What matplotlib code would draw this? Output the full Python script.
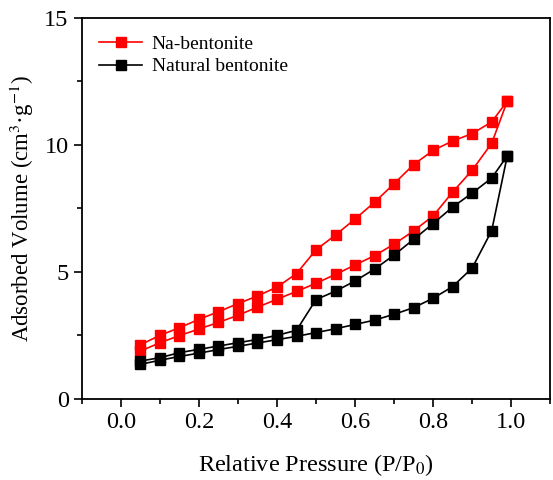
import matplotlib.pyplot as plt
from matplotlib.ticker import MultipleLocator

plt.rcParams['font.family'] = ['Liberation Serif', 'DejaVu Serif']
plt.rcParams['mathtext.fontset'] = 'stix'

# Data: adsorption branch up, then desorption branch back down
p_ads = [0.05, 0.10, 0.15, 0.20, 0.25, 0.30, 0.35, 0.40, 0.45, 0.50,
         0.55, 0.60, 0.65, 0.70, 0.75, 0.80, 0.85, 0.90, 0.95, 0.99]
p_des = p_ads[::-1]

na_ads = [1.88, 2.21, 2.49, 2.75, 3.01, 3.29, 3.61, 3.92, 4.23, 4.55,
          4.90, 5.27, 5.64, 6.09, 6.61, 7.20, 8.14, 9.00, 10.06, 11.72]
na_des = [11.72, 10.90, 10.44, 10.15, 9.78, 9.22, 8.47, 7.74, 7.08, 6.45,
          5.87, 4.93, 4.40, 4.05, 3.75, 3.43, 3.13, 2.80, 2.50, 2.13]

nat_ads = [1.36, 1.52, 1.67, 1.80, 1.94, 2.07, 2.20, 2.33, 2.46, 2.61,
           2.76, 2.93, 3.10, 3.33, 3.59, 3.96, 4.42, 5.15, 6.62, 9.57]
nat_des = [9.57, 8.69, 8.10, 7.55, 6.90, 6.28, 5.66, 5.11, 4.64, 4.24,
           3.91, 2.70, 2.50, 2.34, 2.21, 2.08, 1.95, 1.82, 1.62, 1.49]

fig = plt.figure(figsize=(5.53, 4.80), dpi=100)
ax = fig.add_axes([0.148, 0.169, 0.847, 0.794])

ax.plot(p_ads + p_des, na_ads + na_des, color='red', marker='s',
        markersize=6.5, linewidth=1.2, label='Na-bentonite')
ax.plot(p_ads + p_des, nat_ads + nat_des, color='black', marker='s',
        markersize=6.5, linewidth=1.2, label='Natural bentonite')

ax.set_xlim(-0.1, 1.1)
ax.set_ylim(0, 15)
ax.xaxis.set_major_locator(MultipleLocator(0.2))
ax.xaxis.set_minor_locator(MultipleLocator(0.1))
ax.yaxis.set_major_locator(MultipleLocator(5))
ax.yaxis.set_minor_locator(MultipleLocator(2.5))
ax.xaxis.set_major_formatter(plt.FuncFormatter(lambda v, _: f'{v:.1f}'))
ax.tick_params(which='both', direction='out', width=1.2, labelsize=17.5)
ax.tick_params(which='major', length=6)
ax.tick_params(which='minor', length=3.5)
for s in ax.spines.values():
    s.set_linewidth(1.3)

ax.set_xlabel('Relative Pressure (P/P$_0$)', fontsize=17.5, labelpad=14)
ax.set_ylabel('Adsorbed Volume (cm$^3$·g$^{-1}$)', fontsize=16.5, labelpad=6)

ax.legend(loc='upper left', frameon=False, fontsize=14, handlelength=2.2,
          handletextpad=0.5, borderaxespad=0.7, borderpad=0.2,
          labelspacing=0.25)

fig.savefig('out.png', dpi=100)
